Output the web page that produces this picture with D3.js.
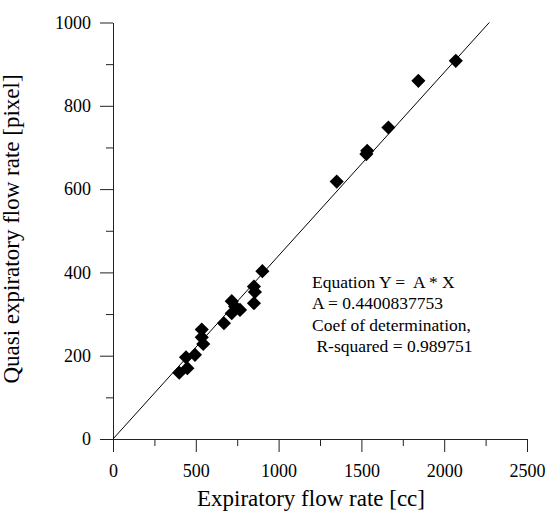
<!DOCTYPE html>
<html>
<head>
<meta charset="utf-8">
<script src="https://cdn.jsdelivr.net/npm/d3@7"></script>
<style>
  body { margin: 0; background: #fff; }
  svg text { font-family: "Liberation Serif", Tinos, "Times New Roman", Times, "DejaVu Serif", serif; fill: #000; }
</style>
</head>
<body>
<svg id="chart" width="549" height="514"></svg>
<script>
// data
const flowCc = [400, 449, 441, 495, 545, 536, 536, 670, 717, 717, 737, 767, 851, 857, 851, 902, 1351, 1530, 1535, 1663, 1844, 2070];
const quasiPx = [159, 170, 196, 202, 228, 244, 263, 278, 302, 331, 318, 310, 326, 353, 366, 403, 618, 684, 692, 748, 860, 908];
const slopeA = 0.4400837753;
const xTicks = [0, 500, 1000, 1500, 2000, 2500];
const yTicks = [0, 200, 400, 600, 800, 1000];
const noteLines = ["Equation Y =  A * X", "A = 0.4400837753", "Coef of determination,", " R-squared = 0.989751"];

const points = flowCc.map((x, i) => ({ x, y: quasiPx[i] }));

const serif = '"Liberation Serif", Tinos, "Times New Roman", Times, "DejaVu Serif", serif';
const svg = d3.select("#chart");
const plotL = 113, plotR = 527, plotT = 22.5, plotB = 439;

const x = d3.scaleLinear().domain([0, 2500]).range([plotL, plotR]);
const y = d3.scaleLinear().domain([0, 1000]).range([plotB, plotT]);

// minor ticks
svg.append("g")
    .attr("transform", `translate(0,${plotB})`)
    .call(d3.axisBottom(x).tickValues(d3.range(250, 2500, 500)).tickSize(7).tickSizeOuter(0).tickFormat(""))
    .call(g => g.select(".domain").remove());
svg.append("g")
    .attr("transform", `translate(${plotL},0)`)
    .call(d3.axisLeft(y).tickValues(d3.range(100, 1000, 200)).tickSize(7).tickSizeOuter(0).tickFormat(""))
    .call(g => g.select(".domain").remove());

// major ticks + axes
const xAxis = svg.append("g")
    .attr("transform", `translate(0,${plotB})`)
    .call(d3.axisBottom(x).tickValues(xTicks).tickSize(13).tickSizeOuter(0).tickPadding(12).tickFormat(d3.format("d")));
const yAxis = svg.append("g")
    .attr("transform", `translate(${plotL},0)`)
    .call(d3.axisLeft(y).tickValues(yTicks).tickSize(13).tickSizeOuter(0).tickPadding(9).tickFormat(d3.format("d")));

svg.selectAll("g").attr("font-family", serif);
svg.selectAll(".tick line, .domain").attr("stroke", "#222");
[xAxis, yAxis].forEach(g => g.selectAll("text")
    .style("font-family", serif)
    .style("font-size", "18px")
    .attr("fill", "#000"));

// fit line Y = A * X
const xEnd = 1000 / slopeA;
svg.append("line")
    .attr("x1", x(0)).attr("y1", y(0))
    .attr("x2", x(xEnd)).attr("y2", y(slopeA * xEnd))
    .attr("stroke", "#000")
    .attr("stroke-width", 1);

// diamonds
const diamond = d3.symbol().type(d3.symbolSquare).size(100);
svg.selectAll("path.pt")
    .data(points)
    .enter()
    .append("path")
    .attr("class", "pt")
    .attr("d", diamond)
    .attr("transform", d => `translate(${x(d.x)},${y(d.y)}) rotate(45)`)
    .attr("fill", "#000");

// annotation
svg.append("g")
    .selectAll("text")
    .data(noteLines)
    .enter()
    .append("text")
    .attr("x", 312)
    .attr("y", (d, i) => 288 + i * 21.4)
    .style("font-family", serif)
    .style("font-size", "17.5px")
    .style("white-space", "pre")
    .text(d => d);

// axis titles
svg.append("text")
    .attr("text-anchor", "middle")
    .attr("x", 311)
    .attr("y", 506)
    .style("font-family", serif)
    .style("font-size", "23px")
    .text("Expiratory flow rate [cc]");

svg.append("text")
    .attr("text-anchor", "middle")
    .attr("transform", "rotate(-90)")
    .attr("x", -229)
    .attr("y", 19)
    .style("font-family", serif)
    .style("font-size", "23px")
    .text("Quasi expiratory flow rate [pixel]");
</script>
</body>
</html>
